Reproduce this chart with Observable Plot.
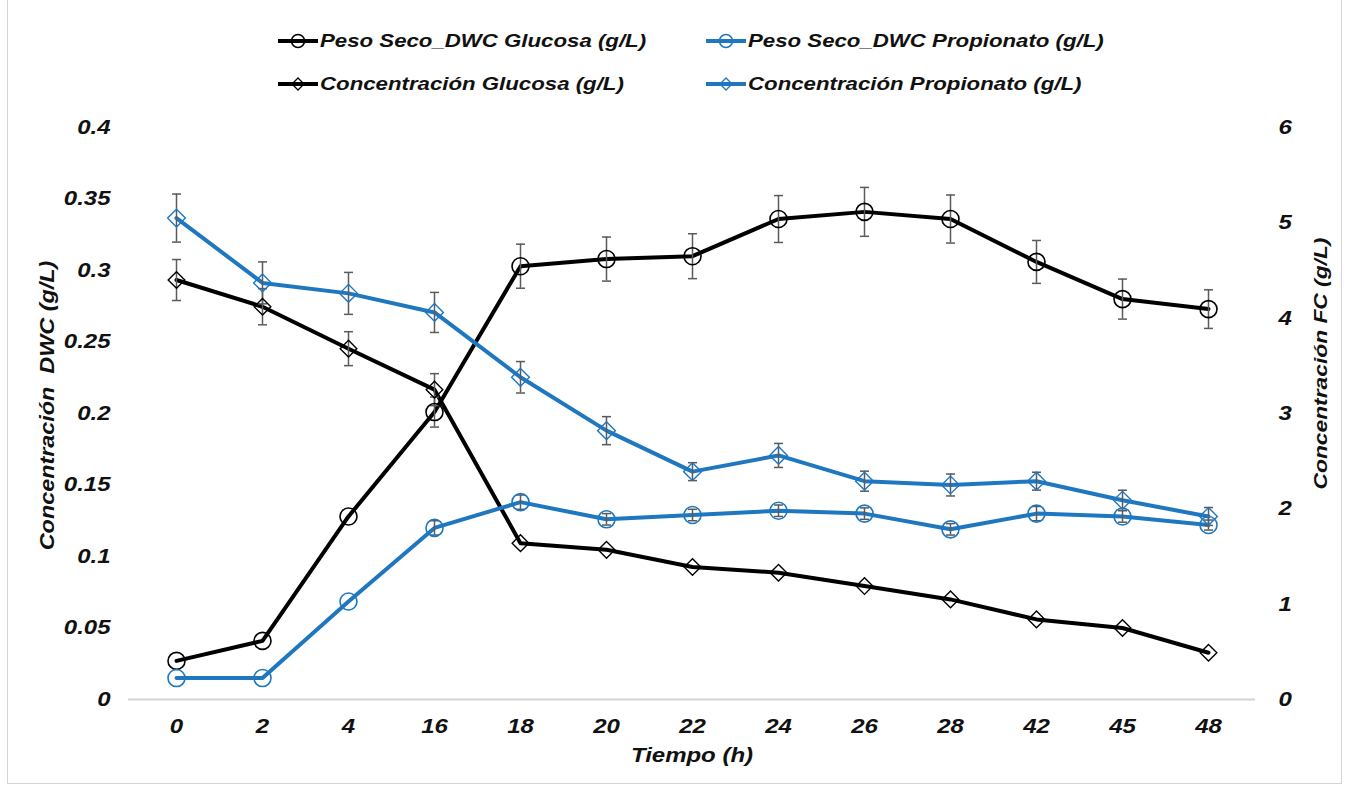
<!DOCTYPE html>
<html>
<head>
<meta charset="utf-8">
<script src="https://cdn.jsdelivr.net/npm/d3@7"></script>
<script src="https://cdn.jsdelivr.net/npm/@observablehq/plot@0.6"></script>
<style>
  html, body { margin: 0; padding: 0; background: #fff; }
  #wrap { position: relative; width: 1349px; height: 786px; overflow: hidden; font-family: "Liberation Sans", Arial, sans-serif; }
  #frame { position: absolute; left: 7px; top: -2px; width: 1335px; height: 786px; border: 1px solid #d4d4d4; box-sizing: border-box; pointer-events: none; }
  #legend { position: relative; height: 105px; width: 1349px; }
  .item { position: absolute; display: flex; align-items: center; font-size: 19px; font-weight: bold; font-style: italic; color: #111; white-space: nowrap; }
  .item svg { margin-right: 2px; flex: none; }
  .item span { display: inline-block; transform: scaleX(1.17); transform-origin: left center; }
  #chart svg { display: block; }
</style>
</head>
<body>
<div id="wrap">
  <div id="legend"></div>
  <div id="chart"></div>
  <div id="frame"></div>
</div>
<script>
// ---- Data ----
const tiempos = ["0","2","4","16","18","20","22","24","26","28","42","45","48"];

// Left axis (Concentración DWC, g/L)
const pesoGlucosa      = [0.027, 0.041, 0.128, 0.201, 0.303, 0.308, 0.310, 0.336, 0.341, 0.336, 0.306, 0.280, 0.273];
const pesoGlucosaErr   = [0.000, 0.000, 0.000, 0.0105, 0.0154, 0.0154, 0.0157, 0.0164, 0.0171, 0.0168, 0.015, 0.014, 0.0135];
const pesoPropionato   = [0.015, 0.015, 0.0685, 0.120, 0.138, 0.126, 0.129, 0.132, 0.130, 0.119, 0.130, 0.128, 0.122];
const pesoPropionatoErr= [0.000, 0.000, 0.000, 0.005, 0.005, 0.004, 0.004, 0.004, 0.004, 0.004, 0.005, 0.004, 0.0035];

// Right axis (Concentración FC, g/L)
const concGlucosa      = [4.40, 4.12, 3.68, 3.25, 1.64, 1.57, 1.39, 1.33, 1.19, 1.05, 0.84, 0.75, 0.49];
const concGlucosaErr   = [0.215, 0.19, 0.178, 0.168, 0, 0, 0, 0, 0, 0, 0, 0, 0];
const concPropionato   = [5.05, 4.37, 4.26, 4.06, 3.38, 2.82, 2.39, 2.56, 2.29, 2.25, 2.29, 2.09, 1.92];
const concPropionatoErr= [0.252, 0.22, 0.22, 0.21, 0.165, 0.147, 0.094, 0.126, 0.105, 0.115, 0.094, 0.105, 0.094];

const leftTicks  = [0, 0.05, 0.1, 0.15, 0.2, 0.25, 0.3, 0.35, 0.4];
const rightTicks = [0, 1, 2, 3, 4, 5, 6];

const seriesNames = [
  "Peso Seco_DWC Glucosa (g/L)",
  "Peso Seco_DWC Propionato (g/L)",
  "Concentración Glucosa (g/L)",
  "Concentración Propionato (g/L)"
];
const xTitle = "Tiempo (h)";
const yLeftTitle = "Concentración  DWC (g/L)";
const yRightTitle = "Concentración FC (g/L)";

// ---- Styles ----
const BLACK = "#000000";
const BLUE = "#1f77c0";
const ERR = "#5a5a5a";
const TEXT = "#111111";
const LEFTMAX = 0.4, RIGHTMAX = 6;
const toLeft = v => v * LEFTMAX / RIGHTMAX;

function build(name, vals, errs, scale) {
  return tiempos.map((t, i) => ({
    serie: name, t,
    y: scale(vals[i]),
    lo: scale(vals[i] - errs[i]),
    hi: scale(vals[i] + errs[i]),
    e: errs[i]
  }));
}
const id = v => v;
const sPG = build(seriesNames[0], pesoGlucosa, pesoGlucosaErr, id);
const sPP = build(seriesNames[1], pesoPropionato, pesoPropionatoErr, id);
const sCG = build(seriesNames[2], concGlucosa, concGlucosaErr, toLeft);
const sCP = build(seriesNames[3], concPropionato, concPropionatoErr, toLeft);

const cap = { draw(ctx, size) { const w = 4.5; ctx.moveTo(-w, 0); ctx.lineTo(w, 0); } };

function errMarks(data) {
  const d = data.filter(p => p.e > 0);
  return [
    Plot.ruleX(d, { x: "t", y1: "lo", y2: "hi", stroke: ERR, strokeWidth: 1.5 }),
    Plot.dot(d, { x: "t", y: "lo", symbol: cap, stroke: ERR, fill: "none", strokeWidth: 1.5, r: 4 }),
    Plot.dot(d, { x: "t", y: "hi", symbol: cap, stroke: ERR, fill: "none", strokeWidth: 1.5, r: 4 })
  ];
}

function fmtLeft(d) { return String(+d.toFixed(2)); }

const plot = Plot.plot({
  width: 1349,
  height: 681,
  marginTop: 22,
  marginBottom: 87,
  marginLeft: 128,
  marginRight: 94,
  style: { fontFamily: "Liberation Sans, Arial, sans-serif", fontSize: "20px", fontWeight: "bold", fontStyle: "italic", color: TEXT, background: "transparent" },
  x: { type: "point", domain: tiempos, padding: 0.5 },
  y: { domain: [0, LEFTMAX] },
  marks: [
    Plot.ruleY([0], { stroke: "#d4d4d4", strokeWidth: 2 }),
    Plot.axisX({ tickSize: 0, tickPadding: 19, label: null }),
    Plot.axisY(leftTicks, { anchor: "left", tickSize: 0, tickPadding: 18, tickFormat: fmtLeft, label: null }),
    Plot.axisY(rightTicks.map(toLeft), { anchor: "right", tickSize: 0, tickPadding: 23, tickFormat: d => String(Math.round(d * RIGHTMAX / LEFTMAX)), label: null }),
    Plot.text([xTitle], { frameAnchor: "bottom", dy: 62, fontSize: 20, fontWeight: "bold", fontStyle: "italic", fill: TEXT }),
    Plot.text([yLeftTitle], { frameAnchor: "left", dx: -81, dy: -8, rotate: -90, textAnchor: "middle", fontSize: 19.5, fontWeight: "bold", fontStyle: "italic", fill: TEXT }),
    Plot.text([yRightTitle], { frameAnchor: "right", dx: 65, dy: -50, rotate: -90, textAnchor: "middle", fontSize: 19, fontWeight: "bold", fontStyle: "italic", fill: TEXT }),
    Plot.line(sPG, { x: "t", y: "y", stroke: BLACK, strokeWidth: 4 }),
    Plot.line(sCG, { x: "t", y: "y", stroke: BLACK, strokeWidth: 4 }),
    Plot.line(sPP, { x: "t", y: "y", stroke: BLUE, strokeWidth: 4 }),
    Plot.line(sCP, { x: "t", y: "y", stroke: BLUE, strokeWidth: 4 }),
    ...errMarks(sPG), ...errMarks(sCG), ...errMarks(sPP), ...errMarks(sCP),
    Plot.dot(sPG, { x: "t", y: "y", symbol: "circle", r: 8.5, stroke: BLACK, strokeWidth: 1.6, fill: "none" }),
    Plot.dot(sPP, { x: "t", y: "y", symbol: "circle", r: 8.5, stroke: BLUE, strokeWidth: 1.6, fill: "none" }),
    Plot.dot(sCG, { x: "t", y: "y", symbol: "diamond2", r: 7.5, stroke: BLACK, strokeWidth: 1.4, fill: "none" }),
    Plot.dot(sCP, { x: "t", y: "y", symbol: "diamond2", r: 8, stroke: BLUE, strokeWidth: 1.4, fill: "none" })
  ]
});

// Widen the glyphs horizontally (the reference font renders wider than Arial)
plot.querySelectorAll("text").forEach(t => {
  let tr = t.getAttribute("transform");
  if (!tr) {
    const x = +t.getAttribute("x") || 0, y = +t.getAttribute("y") || 0;
    t.removeAttribute("x"); t.removeAttribute("y");
    tr = `translate(${x},${y})`;
  }
  t.setAttribute("transform", tr + " scale(1.2,1)");
});
document.getElementById("chart").appendChild(plot);

// ---- Legend ----
const legendItems = [
  { name: seriesNames[0], color: BLACK, shape: "circle", left: 278, top: 41 },
  { name: seriesNames[1], color: BLUE, shape: "circle", left: 706, top: 41 },
  { name: seriesNames[2], color: BLACK, shape: "diamond", left: 278, top: 84 },
  { name: seriesNames[3], color: BLUE, shape: "diamond", left: 706, top: 84 }
];
const legend = document.getElementById("legend");
for (const it of legendItems) {
  const div = document.createElement("div");
  div.className = "item";
  div.style.left = it.left + "px";
  div.style.top = (it.top - 13) + "px";
  div.style.height = "26px";
  const marker = it.shape === "circle"
    ? `<circle cx="20" cy="13" r="6.5" fill="none" stroke="${it.color}" stroke-width="1.5"/>`
    : `<path d="M20,7 L26,13 L20,19 L14,13 Z" fill="none" stroke="${it.color}" stroke-width="1.3"/>`;
  div.innerHTML = `<svg width="40" height="26"><line x1="0" y1="13" x2="40" y2="13" stroke="${it.color}" stroke-width="4"/>${marker}</svg><span>${it.name}</span>`;
  legend.appendChild(div);
}
</script>
</body>
</html>
